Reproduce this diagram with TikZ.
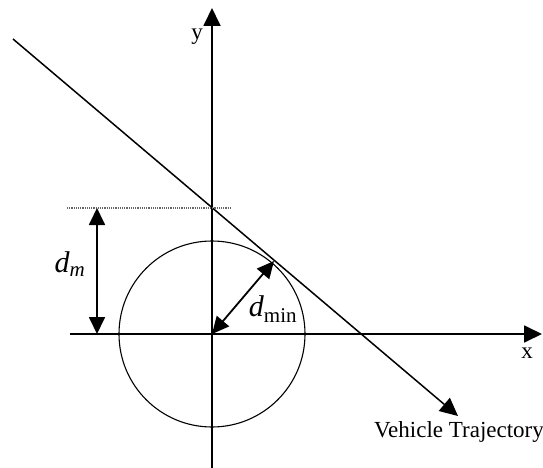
\documentclass[tikz,border=0pt]{standalone}
\usepackage{fontspec}
\setmainfont{Liberation Serif}
\usetikzlibrary{arrows.meta}

\begin{document}
\begin{tikzpicture}[
  x=1pt, y=-1pt,
  axis/.style={line width=1.8pt, -{Triangle[length=18pt,width=17pt]}},
  dimarr/.style={line width=1.8pt,
    {Triangle[length=17pt,width=16pt]}-{Triangle[length=17pt,width=16pt]}},
  traj/.style={line width=1.5pt, -{Triangle[length=18pt,width=17pt]}},
  guide/.style={line width=1.2pt, black!60, densely dotted},
  lbl/.style={font=\fontsize{23}{26}\selectfont},
  dlbl/.style={font=\fontsize{30}{34}\selectfont\itshape},
]
\useasboundingbox (0,0) rectangle (543,468);

% axes
\coordinate (O)     at (212,334);
\coordinate (xfrom) at (70,334);
\coordinate (xto)   at (542,334);
\coordinate (yfrom) at (212,468);
\coordinate (yto)   at (212,8);

\draw[axis] (xfrom) -- (xto);
\draw[axis] (yfrom) -- (yto);
\node[lbl] (ylab) at (197,37) {y};
\node[lbl] (xlab) at (527,353) {x};

% safety circle
\draw[line width=1.1pt] (O) circle[radius=93];

% trajectory
\coordinate (tfrom) at (13,39);
\coordinate (tto)   at (458,416);
\draw[traj] (tfrom) -- (tto);
\node[lbl] (vt) at (459,432) {Vehicle Trajectory};

% distances
\coordinate (gfrom) at (67,208);
\coordinate (gto)   at (232,208);
\coordinate (dtop)  at (97,208);
\coordinate (dbot)  at (97,334);
\coordinate (tang)  at (274,261);
\draw[guide] (gfrom) -- (gto);
\draw[dimarr] (dtop) -- (dbot);
\draw[dimarr] (O) -- (tang);
\node[dlbl] (dm)   at (70,264) {d\textsubscript{m}};
\node[dlbl] (dmin) at (273,309) {d\textsubscript{\upshape min}};

\end{tikzpicture}
\end{document}
